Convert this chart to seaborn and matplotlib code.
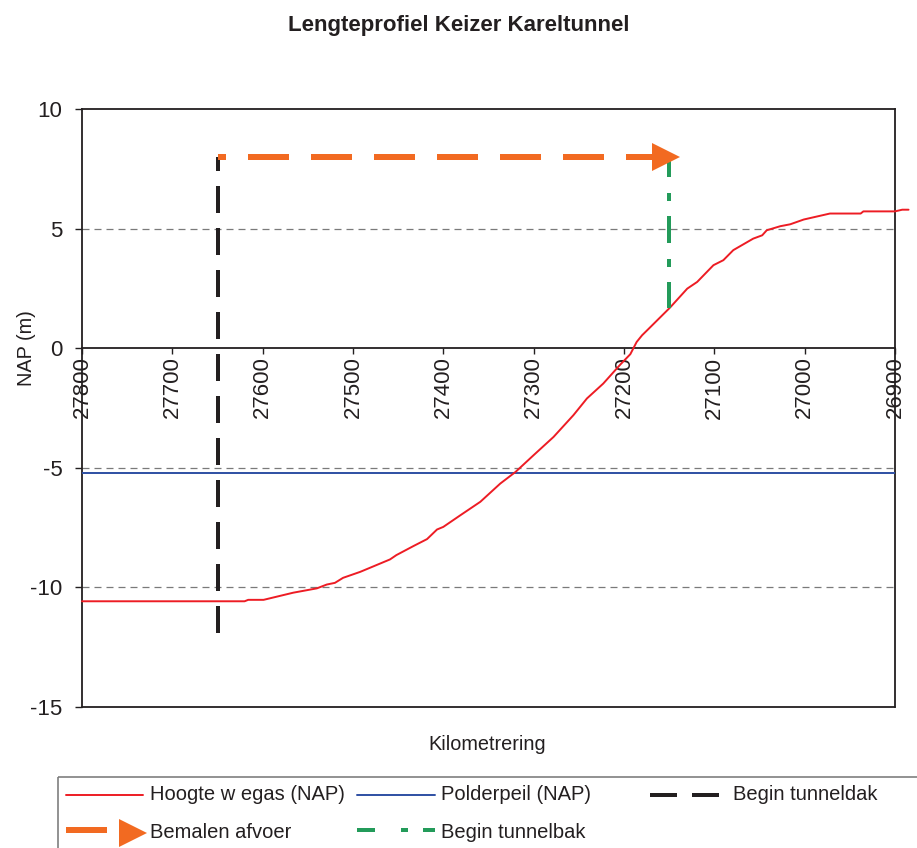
import numpy as np
import pandas as pd
import matplotlib
matplotlib.use("Agg")
import matplotlib.pyplot as plt
from matplotlib.patches import Rectangle
import seaborn as sns

# ---------------- data ----------------
km = [27800, 27620, 27616, 27599, 27566, 27540, 27529, 27520, 27511, 27492,
      27459, 27452, 27433, 27418, 27407, 27400, 27381, 27359, 27337, 27320,
      27300, 27278, 27256, 27241, 27223, 27204, 27193, 27186, 27180, 27173,
      27149, 27130, 27119, 27101, 27090, 27079, 27057, 27047, 27042, 27027,
      27016, 27001, 26972, 26938, 26935, 26900, 26892, 26885]
hoogte_wegas = [-10.58, -10.58, -10.52, -10.52, -10.22, -10.04, -9.88, -9.81, -9.60, -9.35,
                -8.83, -8.65, -8.27, -7.98, -7.58, -7.47, -6.98, -6.42, -5.66, -5.17,
                -4.47, -3.71, -2.80, -2.10, -1.48, -0.68, -0.25, 0.26, 0.54, 0.80,
                1.70, 2.49, 2.77, 3.47, 3.68, 4.10, 4.58, 4.72, 4.93, 5.10,
                5.18, 5.38, 5.63, 5.63, 5.72, 5.72, 5.79, 5.79]
polderpeil = -5.2
begin_tunneldak_km = 27650
tunneldak_y = [8, -12]
begin_tunnelbak_km = 27150
tunnelbak_y = [8, 1.70]
afvoer_km = [27650, 27153]
afvoer_y = 8
x_ticks = [27800, 27700, 27600, 27500, 27400, 27300, 27200, 27100, 27000, 26900]
y_ticks = [-15, -10, -5, 0, 5, 10]
grid_levels = [5, -5, -10]

title = "Lengteprofiel Keizer Kareltunnel"
xlabel = "Kilometrering"
ylabel = "NAP (m)"
legend_labels = ["Hoogte w egas (NAP)", "Polderpeil (NAP)", "Begin tunneldak",
                 "Bemalen afvoer", "Begin tunnelbak"]

# ---------------- style ----------------
sns.set_theme(style="white")
plt.rcParams["font.family"] = ["Liberation Sans", "DejaVu Sans"]
plt.rcParams["lines.scale_dashes"] = False

RED = "#ED1C24"
BLUE = "#2E4FA3"
BLACK = "#231F20"
ORANGE = "#F26A21"
GREEN = "#239B5A"
GRID = "#7A7A7A"
PX = 0.72  # points per pixel at dpi=100

W, H = 917, 848
fig = plt.figure(figsize=(W / 100, H / 100), dpi=100)
fig.patch.set_facecolor("white")

ax = fig.add_axes([82 / W, 1 - 707 / H, (895 - 82) / W, (707 - 109) / H])
ax.set_facecolor("white")

df = pd.DataFrame({"km": km, "hoogte": hoogte_wegas})
sns.lineplot(data=df, x="km", y="hoogte", ax=ax, color=RED, lw=1.4,
             estimator=None, sort=False, clip_on=False, zorder=4)

ax.set_xlim(27800, 26900)
ax.set_ylim(-15, 10)

for g in grid_levels:
    ax.axhline(g, color=GRID, lw=0.9, dashes=(7 * PX, 5 * PX), zorder=1)

ax.axhline(polderpeil, color=BLUE, lw=1.4, zorder=3)

# begin tunneldak (black dashed)
ax.plot([begin_tunneldak_km] * 2, tunneldak_y, color=BLACK, lw=4 * PX,
        linestyle=(13 * PX, (27 * PX, 15 * PX)), zorder=5, dash_capstyle="butt")

# begin tunnelbak (green dash-dot)
ax.plot([begin_tunnelbak_km] * 2, tunnelbak_y, color=GREEN, lw=4 * PX,
        linestyle=(7 * PX, (27 * PX, 16 * PX, 8 * PX, 15 * PX)), zorder=5,
        dash_capstyle="butt")

# bemalen afvoer (orange dashed arrow)
ax.plot(afvoer_km, [afvoer_y] * 2, color=ORANGE, lw=6 * PX,
        linestyle=(33 * PX, (41 * PX, 22 * PX)), zorder=6, dash_capstyle="butt")
ax.plot([afvoer_km[-1]], [afvoer_y], marker=">", color=ORANGE, markersize=28 * PX,
        markeredgewidth=0, zorder=7, clip_on=False)

# spines / ticks
for s in ["left", "top", "right", "bottom"]:
    ax.spines[s].set_color(BLACK)
    ax.spines[s].set_linewidth(1.3)
    ax.spines[s].set_visible(True)
ax.spines["bottom"].set_position(("data", 0))
ax.axhline(-15, color=BLACK, lw=1.3, clip_on=False, zorder=3)

ax.set_xticks(x_ticks)
ax.set_xticklabels([str(t) for t in x_ticks], rotation=90)
ax.set_yticks(y_ticks)
ax.set_yticklabels([str(t) for t in y_ticks])
ax.tick_params(axis="x", direction="out", length=4, width=1.0, color=BLACK,
               labelsize=16, labelcolor=BLACK, pad=2, bottom=True)
ax.tick_params(axis="y", direction="out", length=5, width=1.0, color=BLACK,
               labelsize=16, labelcolor=BLACK, pad=9, left=True)
ax.set_xlabel("")
ax.set_ylabel("")
ax.grid(False)

# ---------------- overlay: title, labels, legend ----------------
ov = fig.add_axes([0, 0, 1, 1], zorder=-1)
ov.set_xlim(0, W)
ov.set_ylim(H, 0)
ov.axis("off")
ov.patch.set_alpha(0)

ov.text(W / 2, 26, title, ha="center", va="center", fontsize=16,
        fontweight="bold", color=BLACK)
ov.text(487, 745, xlabel, ha="center", va="center", fontsize=14.3, color=BLACK)
ov.text(27, 348, ylabel, ha="center", va="center", fontsize=14.3, rotation=90,
        color=BLACK)

ov.add_patch(Rectangle((58, 777), 900, 120, fill=False, edgecolor="#7F7F7F", lw=1.2))

r1, r2 = 795, 831
fs = 14.5
ov.plot([66, 143], [r1, r1], color=RED, lw=1.4)
ov.text(150, r1, legend_labels[0], va="center", ha="left", fontsize=fs, color=BLACK)
ov.plot([357, 435], [r1, r1], color=BLUE, lw=1.4)
ov.text(441, r1, legend_labels[1], va="center", ha="left", fontsize=fs, color=BLACK)
ov.plot([650, 719], [r1, r1], color=BLACK, lw=4 * PX,
        linestyle=(0, (27 * PX, 15 * PX)), dash_capstyle="butt")
ov.text(733, r1, legend_labels[2], va="center", ha="left", fontsize=fs, color=BLACK)

ov.plot([66, 107], [r2 - 1, r2 - 1], color=ORANGE, lw=6 * PX, solid_capstyle="butt")
ov.plot([133], [r2 + 2], marker=">", color=ORANGE, markersize=28 * PX,
        markeredgewidth=0)
ov.text(150, r2 + 2, legend_labels[3], va="center", ha="left", fontsize=fs, color=BLACK)
ov.plot([357, 435], [r2 - 1, r2 - 1], color=GREEN, lw=4 * PX,
        linestyle=(0, (18 * PX, 26 * PX, 7 * PX, 15 * PX, 14 * PX, 30 * PX)),
        dash_capstyle="butt")
ov.text(441, r2 + 2, legend_labels[4], va="center", ha="left", fontsize=fs, color=BLACK)

fig.savefig("out.png", dpi=100, facecolor="white")
